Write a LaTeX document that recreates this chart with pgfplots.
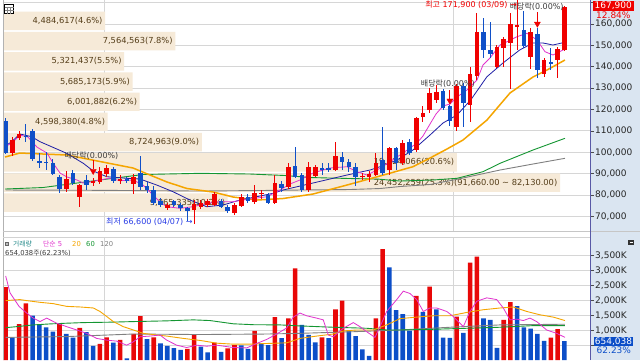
\documentclass[border=0pt]{standalone}
\usepackage{fontspec}
\setmainfont{DejaVu Sans}
\newfontfamily\kr{Noto Sans CJK KR}
\usepackage{pgfplots}
\usepackage{pgfplotstable}
\pgfplotsset{compat=1.18}
\definecolor{cred}{RGB}{240,0,0}
\definecolor{cblue}{RGB}{16,80,200}
\definecolor{vred}{RGB}{232,8,8}
\definecolor{vblue}{RGB}{12,78,200}
\definecolor{maa}{RGB}{225,50,205}
\definecolor{mab}{RGB}{30,30,165}
\definecolor{mac}{RGB}{245,165,0}
\definecolor{mad}{RGB}{20,150,50}
\definecolor{mae}{RGB}{128,128,128}
\definecolor{tanbox}{RGB}{246,234,216}
\definecolor{lbl}{RGB}{85,62,25}
\definecolor{panel}{RGB}{218,229,241}
\definecolor{gridc}{RGB}{214,214,214}
\definecolor{txt}{RGB}{60,60,60}
\newcommand\ftick{\fontsize{9}{10}\selectfont}
\newcommand\flab{\fontsize{8.3}{9}\selectfont}
\newcommand\fdiv{\fontsize{8}{9}\selectfont}
\newcommand\fsm{\fontsize{6.8}{7.5}\selectfont}

\pgfplotstableread{
i O H L C
1 99.6 107.0 98.0 105.8
2 106.6 110.1 105.8 108.45
9 82.75 91.0 81.6 87.6
11 79.0 85.2 74.6 84.8
13 85.5 88.0 84.2 86.6
14 86.3 93.3 85.2 91.0
15 89.9 94.1 88.6 92.6
17 86.3 89.3 85.2 87.4
19 85.2 89.8 80.4 88.6
24 73.9 76.2 73.0 75.4
28 73.1 77.7 66.6 75.7
29 74.6 77.7 73.5 76.2
30 75.4 78.0 74.5 77.0
31 75.4 81.6 74.8 80.6
34 71.5 76.2 70.8 75.4
35 75.0 80.4 74.5 79.0
37 76.5 84.8 76.0 80.9
38 80.5 82.4 78.1 80.9
40 76.2 89.4 75.8 85.6
42 83.7 94.9 83.0 93.3
45 82.4 95.6 81.6 93.3
46 89.0 94.1 88.2 93.0
49 91.8 104.7 91.0 98.0
53 88.5 90.2 87.2 89.0
54 88.6 91.0 86.3 89.9
55 89.4 99.6 89.0 94.9
57 91.8 102.4 89.4 101.9
59 94.9 105.8 94.0 104.25
61 101.1 116.4 100.3 115.9
62 116.4 121.4 114.3 118.3
63 119.8 130.0 118.3 127.6
64 124.5 131.5 122.9 128.4
67 112.0 132.0 109.7 131.0
69 122.2 140.0 114.3 136.6
70 135.7 165.0 133.8 156.4
73 140.0 150.2 139.3 149.4
74 148.9 154.1 140.0 152.8
75 151.0 165.0 129.5 160.0
76 158.5 171.9 147.9 159.5
78 144.7 158.0 139.0 156.1
80 136.6 144.0 135.4 143.2
82 143.2 149.4 134.6 148.2
83 147.9 168.5 147.5 167.9
}\redc

\pgfplotstableread{
i O H L C
0 114.8 116.0 99.0 99.6
3 107.8 113.3 105.0 107.0
4 110.1 111.0 96.0 96.8
5 95.8 99.6 92.6 95.2
6 95.5 100.0 91.8 94.9
7 94.9 96.8 89.4 89.9
8 88.2 89.4 80.9 82.75
10 90.5 91.45 84.8 85.6
12 86.8 89.4 82.4 84.8
16 92.3 93.0 85.6 86.6
18 87.4 88.2 85.6 86.4
20 90.2 98.0 82.4 83.7
21 84.3 86.2 81.0 82.1
22 82.4 84.0 75.4 76.2
23 77.0 78.4 74.5 75.1
25 77.0 77.7 74.6 75.4
26 75.4 76.2 72.3 73.9
27 73.9 74.6 67.6 72.3
32 77.0 78.0 73.8 74.6
33 74.6 75.4 71.5 72.6
36 79.0 80.4 76.2 77.0
39 80.1 81.0 75.8 76.2
41 85.1 86.6 81.5 83.2
43 93.6 102.4 87.9 88.6
44 89.4 90.4 81.5 82.4
47 92.6 94.9 89.4 91.8
48 92.6 94.9 90.8 91.8
50 97.7 100.3 91.8 95.2
51 95.6 96.8 90.9 93.3
52 93.3 95.0 84.0 88.6
56 96.3 112.0 89.4 90.2
58 101.9 102.6 91.8 94.9
60 105.0 106.2 98.8 99.6
65 128.8 129.5 119.8 120.6
66 121.4 122.2 112.3 114.8
68 131.0 132.5 112.0 122.9
71 156.1 162.7 144.0 148.0
72 147.8 161.0 144.0 146.0
77 157.2 166.0 149.0 149.7
79 155.3 158.0 134.6 138.5
81 142.4 148.6 138.5 141.2
}\bluec

\pgfplotstableread{
i V
0 2450
2 1220
3 1910
8 1250
11 1090
14 560
15 780
17 690
19 890
20 1490
22 780
27 390
28 860
31 600
33 410
34 520
37 990
40 1450
42 1410
43 3080
47 780
49 1710
50 2000
55 1410
56 3720
61 2160
63 2470
67 1470
69 3270
70 3470
74 1360
75 1950
81 770
82 1050
}\volr

\pgfplotstableread{
i V
1 780
4 1500
5 1220
6 1110
7 970
9 890
10 770
12 950
13 490
16 600
18 80
21 720
23 580
24 490
25 420
26 360
29 470
30 280
32 290
35 510
36 390
38 580
39 520
41 750
44 1190
45 860
46 610
48 750
51 1020
52 820
53 380
54 160
57 3110
58 1690
59 1550
60 1000
62 1630
64 1710
65 770
66 760
68 930
71 1410
72 1360
73 430
76 1820
77 1110
78 1070
79 890
80 660
83 654
}\volb

\begin{document}
\begin{tikzpicture}
\useasboundingbox (0pt,0pt) rectangle (640pt,360pt);
\clip (0pt,0pt) rectangle (640pt,360pt);
\fill[white] (0pt,0pt) rectangle (640pt,360pt);
\fill[panel] (590pt,0pt) rectangle (640pt,360pt);

% ---------- price grid / ticks ----------
\begin{axis}[at={(3pt,129pt)}, anchor=south west, scale only axis,
  width=587pt, height=231pt,
  xmin=-0.40, xmax=86.82, ymin=63.135, ymax=171.231,
  axis line style={draw=none},
  xtick={14.6,66.6}, xticklabels={}, xmajorgrids, xtick style={draw=none},
  ytick={70,80,90,100,110,120,130,140,150,160,170},
  yticklabels={{70,000},{80,000},{90,000},{100,000},{110,000},{120,000},{130,000},{140,000},{150,000},{160,000},{}},
  ymajorgrids, grid style={gridc, line width=0.9pt},
  ytick pos=right, yticklabel pos=right, tick align=outside, major tick length=4pt,
  ytick style={black!70, line width=0.7pt},
  yticklabel style={font=\ftick, text=black!85, anchor=west, inner sep=0pt, xshift=1pt}]
\addplot[draw=none] coordinates {(0,100)};
\end{axis}

% ---------- volume profile ----------
\begin{axis}[at={(3pt,129pt)}, anchor=south west, scale only axis,
  width=587pt, height=231pt,
  xmin=0, xmax=25.769, ymin=63.135, ymax=171.231, hide axis, clip=false]
\addplot[xbar, bar width=8.65, fill=tanbox, draw=none] coordinates {
 (4.484617,161.43) (7.564563,151.98) (5.321437,142.52) (5.685173,133.07)
 (6.001882,123.62) (4.598380,114.17) (8.724963,104.71) (19.924066,95.26)
 (24.452259,85.81) (9.865335,76.36)};
\tikzset{pl/.style={anchor=east, inner sep=0pt, xshift=-2.5pt, text=lbl, font=\flab}}
\node[pl] at (axis cs:4.484617,161.43) {4,484,617(4.6\%)};
\node[pl] at (axis cs:7.564563,151.98) {7,564,563(7.8\%)};
\node[pl] at (axis cs:5.321437,142.52) {5,321,437(5.5\%)};
\node[pl] at (axis cs:5.685173,133.07) {5,685,173(5.9\%)};
\node[pl] at (axis cs:6.001882,123.62) {6,001,882(6.2\%)};
\node[pl] at (axis cs:4.598380,114.17) {4,598,380(4.8\%)};
\node[pl] at (axis cs:8.724963,104.71) {8,724,963(9.0\%)};
\node[pl] at (axis cs:19.924066,95.26) {19,924,066(20.6\%)};
\node[pl] at (axis cs:24.452259,85.81) {24,452,259(25.3\%)(91,660.00 \textasciitilde{} 82,130.00)};
\node[pl] at (axis cs:9.865335,76.36) {9,865,335(10.2\%)};
\end{axis}

% ---------- price plots ----------
\begin{axis}[at={(3pt,129pt)}, anchor=south west, scale only axis,
  width=587pt, height=231pt,
  xmin=-0.40, xmax=86.82, ymin=63.135, ymax=171.231, hide axis]
\addplot[mae, line width=0.9pt] coordinates {(0,82.31) (14.01,82.17) (28.87,81.84) (37.79,82.08) (43.73,82.31) (51.16,82.55) (55.61,83.01) (58.59,83.95) (63.05,84.89) (67.06,87.32) (73.45,91.67) (78.35,94.48) (83.1,97.15)};
\addplot[mad, line width=0.9pt] coordinates {(-0.1,82.78) (5.54,83.48) (14.01,87.0) (20.4,89.57) (28.87,90.13) (36.3,89.8) (41.5,89.1) (45.22,88.16) (51.16,87.69) (55.17,87.46) (58.59,86.52) (63.49,87.0) (67.06,87.79) (70.92,90.88) (73.45,94.81) (78.35,101.03) (83.1,106.51)};
\addplot[mac, line width=1.5pt] coordinates {(-0.1,97.76) (2.12,99.63) (5.54,99.16) (9.11,98.69) (14.01,95.65) (18.92,92.61) (21.44,89.33) (23.97,86.06) (26.94,83.01) (30.8,81.38) (33.77,79.04) (37.34,77.63) (41.2,78.33) (45.66,80.44) (50.71,84.65) (55.61,88.86) (60.51,93.22) (63.05,97.29) (65.57,101.5) (67.95,105.71) (71.51,115.07) (74.93,127.71) (78.35,135.2) (80.43,138.47) (83.1,143.15)};
\addplot[mab, line width=0.8pt] coordinates {(0,103.0) (0.89,104.92) (2.12,108.52) (3.86,107.26) (5.1,104.92) (6.58,102.9) (9.06,99.49) (11.53,94.81) (13.02,91.2) (15.01,88.54) (17.98,87.79) (19.96,87.46) (22.44,84.65) (24.86,81.52) (27.38,77.63) (29.87,74.5) (32.29,75.29) (34.81,77.63) (37.3,79.18) (39.72,80.77) (41.2,82.31) (45.66,85.59) (50.71,89.33) (54.13,91.67) (55.61,93.22) (58.14,96.35) (60.51,101.03) (63.05,108.05) (64.98,113.67) (67.06,117.41) (69.09,124.43) (71.51,135.34) (73.89,141.75) (76.37,147.83) (78.35,151.11) (79.84,151.11) (81.32,150.17) (82.81,151.25) (83.1,151.6)};
\addplot[maa, line width=0.8pt] coordinates {(-0.1,102.4) (1.08,104.8) (2.12,108.05) (3.31,107.1) (4.65,102.4) (6.14,99.6) (7.03,94.95) (8.07,90.27) (9.11,88.4) (10.59,87.0) (11.49,85.6) (12.53,86.05) (14.01,87.0) (15.5,87.9) (16.98,86.66) (18.92,87.0) (20.4,84.65) (21.44,81.38) (22.93,76.7) (23.97,74.5) (25.9,73.75) (27.83,74.5) (29.91,76.09) (31.84,76.84) (33.77,76.84) (35.26,77.63) (37.34,78.57) (38.83,79.18) (40.76,82.31) (42.24,85.12) (43.73,87.0) (45.66,90.27) (48.19,92.61) (50.71,93.22) (52.2,90.88) (53.68,89.33) (55.17,91.67) (57.1,95.56) (59.03,99.63) (61.11,104.3) (62.0,107.58) (63.05,113.2) (63.94,117.88) (64.98,121.62) (66.02,122.56) (67.06,125.84) (68.54,129.11) (70.03,133.79) (70.92,140.81) (71.96,144.09) (73.45,150.17) (74.49,151.72) (75.97,154.06) (77.46,155.65) (78.95,152.51) (80.13,147.04) (81.32,145.49) (83.1,148.3)};
% wicks
\addplot[draw=none, mark=none, forget plot, error bars/.cd, y dir=both, y explicit, error mark=none,
  error bar style={draw=cred, line width=1pt}]
  table[x=i, y expr={(\thisrow{H}+\thisrow{L})/2}, y error expr={(\thisrow{H}-\thisrow{L})/2}] {\redc};
\addplot[draw=none, mark=none, forget plot, error bars/.cd, y dir=both, y explicit, error mark=none,
  error bar style={draw=cblue, line width=1pt}]
  table[x=i, y expr={(\thisrow{H}+\thisrow{L})/2}, y error expr={(\thisrow{H}-\thisrow{L})/2}] {\bluec};
% bodies
\addplot[draw=none, mark=none, forget plot, error bars/.cd, y dir=both, y explicit, error mark=none,
  error bar style={draw=cred, line width=4.6pt}]
  table[x=i, y expr={(\thisrow{O}+\thisrow{C})/2}, y error expr={max(abs(\thisrow{C}-\thisrow{O})/2,0.25)}] {\redc};
\addplot[draw=none, mark=none, forget plot, error bars/.cd, y dir=both, y explicit, error mark=none,
  error bar style={draw=cblue, line width=4.6pt}]
  table[x=i, y expr={(\thisrow{O}+\thisrow{C})/2}, y error expr={max(abs(\thisrow{C}-\thisrow{O})/2,0.25)}] {\bluec};
% dividend markers
\draw[cred, line width=1pt] (axis cs:13,96.35) -- (axis cs:13,92.0);
\draw[cred, line width=1pt] (axis cs:66,129.1) -- (axis cs:66,124.9);
\draw[cred, line width=1pt] (axis cs:79,165.6) -- (axis cs:79,160.9);
\addplot[only marks, mark=triangle*, mark size=3.5pt, mark options={rotate=180, fill=cred, draw=cred}] coordinates {(13,91.2) (66,124.1) (79,160.1)};
\node[anchor=base, inner sep=0pt, text=txt, font=\fdiv] at (axis cs:12.75,97.2) {{\kr 배당락}(0.00\%)};
\node[anchor=base, inner sep=0pt, text=txt, font=\fdiv] at (axis cs:65.7,130.6) {{\kr 배당락}(0.00\%)};
\node[anchor=base, inner sep=0pt, text=txt, font=\fdiv] at (axis cs:78.9,166.7) {{\kr 배당락}(0.00\%)};
\end{axis}

% ---------- volume ----------
\begin{axis}[at={(3pt,0pt)}, anchor=south west, scale only axis,
  width=587pt, height=122.5pt,
  xmin=-0.40, xmax=86.82, ymin=23, ymax=4107,
  axis line style={draw=none},
  xtick={14.6,66.6}, xticklabels={}, xmajorgrids, xtick style={draw=none},
  ytick={500,1000,1500,2000,2500,3000,3500},
  yticklabels={{},{1,000K},{1,500K},{2,000K},{2,500K},{3,000K},{3,500K}},
  ymajorgrids, grid style={gridc, line width=0.9pt},
  ytick pos=right, yticklabel pos=right, tick align=outside, major tick length=4pt,
  ytick style={black!70, line width=0.7pt},
  yticklabel style={font=\ftick, text=black!85, anchor=west, inner sep=0pt, xshift=1pt}]
\addplot[ybar, bar width=0.68, bar shift=0pt, fill=vred, draw=none] table[x=i, y=V] {\volr};
\addplot[ybar, bar width=0.68, bar shift=0pt, fill=vblue, draw=none] table[x=i, y=V] {\volb};
\addplot[mae, line width=0.9pt] coordinates {(0,777) (9.06,804) (18.96,889) (28.87,872) (38.78,889) (43.73,912) (51.65,966) (58.59,1024) (66.02,1115) (73.45,1193) (83.1,1216)};
\addplot[mad, line width=0.9pt] coordinates {(0,1101) (1.63,1135) (4.1,1193) (6.58,1226) (9.06,1250) (11.53,1270) (15.5,1284) (18.96,1304) (23.92,1328) (27.88,1361) (30.36,1338) (33.82,1230) (36.79,1200) (40.76,1193) (43.73,1159) (48.68,1115) (53.64,1081) (56.61,1024) (58.59,1024) (63.54,1047) (68.5,1081) (73.45,1115) (78.35,1169) (83.1,1169)};
\addplot[mac, line width=0.9pt] coordinates {(0,2003) (2.12,2037) (3.12,2003) (5.1,1946) (7.07,1902) (9.06,1811) (11.04,1791) (13.02,1757) (14.01,1642) (15.01,1473) (15.99,1304) (17.47,1135) (18.96,1024) (20.45,912) (22.44,855) (23.92,821) (26.39,743) (28.87,676) (31.35,584) (33.82,551) (36.3,551) (38.78,574) (41.75,595) (43.73,743) (46.21,821) (48.68,889) (50.16,990) (52.15,1024) (54.62,1024) (56.61,1193) (58.59,1402) (61.56,1463) (63.54,1497) (66.02,1497) (68.5,1608) (70.97,1699) (73.45,1757) (75.42,1791) (77.41,1642) (79.39,1530) (81.37,1453) (83.1,1338)};
\addplot[maa, line width=0.8pt] coordinates {(0,2824) (0.64,2264) (1.98,1811) (3.12,1588) (4.1,1419) (5.1,1304) (6.09,1419) (7.58,1250) (9.06,1135) (10.55,1024) (12.04,912) (13.52,743) (15.01,686) (16.49,652) (17.98,517) (18.96,628) (19.96,797) (21.44,821) (22.93,855) (23.92,686) (25.41,517) (26.89,439) (28.38,517) (29.87,483) (31.35,517) (33.82,439) (35.81,426) (37.3,574) (38.78,709) (40.27,889) (41.75,1091) (42.73,1453) (43.73,1588) (44.72,1497) (46.21,1419) (47.19,1361) (47.93,855) (48.68,797) (50.16,1081) (51.65,1270) (52.64,1135) (53.64,966) (54.87,777) (55.87,1260) (56.61,1642) (58.1,2037) (59.08,2318) (60.07,2240) (61.07,2037) (62.05,1642) (63.05,1757) (64.04,1757) (65.53,1642) (66.51,1473) (68.0,1135) (68.99,1642) (69.99,1980) (71.47,2095) (72.96,2037) (73.94,1757) (74.93,1361) (75.93,1385) (76.91,1338) (77.9,1419) (78.9,1304) (80.38,1024) (81.87,912) (83.1,777)};
\end{axis}

% ---------- frame and annotations ----------
\draw[gray!60, line width=0.8pt] (3pt,0pt) -- (3pt,360pt);
\draw[gray!45, line width=1pt] (3pt,128.5pt) -- (640pt,128.5pt);
\draw[gray!35, line width=0.8pt] (3pt,122.5pt) -- (590pt,122.5pt);
\draw[gray!70!blue, line width=0.8pt] (590pt,0pt) -- (590pt,360pt);
\draw[black, fill=white, line width=0.6pt] (4.5pt,346.5pt) rectangle (13.5pt,355.5pt);
\draw[gray, line width=0.4pt] (4.5pt,352.5pt) -- (13.5pt,352.5pt) (4.5pt,349.5pt) -- (13.5pt,349.5pt) (7.5pt,346.5pt) -- (7.5pt,352.5pt) (10.5pt,346.5pt) -- (10.5pt,352.5pt);

\node[anchor=base east, inner sep=0pt, text=cred, font=\fdiv] at (517pt,353pt) {{\kr 최고} 171,900 (03/09) →};
\node[anchor=base west, inner sep=0pt, text={rgb,255:red,40;green,60;blue,230}, font=\fdiv] at (106pt,135.5pt) {{\kr 최저} 66,600 (04/07) →};

% volume legend
\filldraw[fill=gray!50, draw=gray!80!black, line width=0.4pt] (5pt,114.5pt) rectangle (8pt,117.5pt);
\node[anchor=base west, inner sep=0pt, text={rgb,255:red,40;green,140;blue,140}, font=\fsm] at (13pt,113.5pt) {\kr 거래량};
\node[anchor=base west, inner sep=0pt, text=maa, font=\fsm] at (43pt,113.5pt) {{\kr 단순} 5};
\node[anchor=base west, inner sep=0pt, text=mac, font=\fsm] at (72pt,113.5pt) {20};
\node[anchor=base west, inner sep=0pt, text=mad, font=\fsm] at (86pt,113.5pt) {60};
\node[anchor=base west, inner sep=0pt, text=mae, font=\fsm] at (100pt,113.5pt) {120};
\node[anchor=base west, inner sep=0pt, text=txt, font=\fsm] at (5pt,104.5pt) {654,038{\kr 주}(62.23\%)};

% right panel boxes
\fill[cred] (592.5pt,349.5pt) rectangle (634pt,359.5pt);
\node[text=white, font=\ftick, inner sep=0pt] at (613.2pt,354.5pt) {167,900};
\node[anchor=west, text=cred, font=\ftick, inner sep=0pt] at (596pt,345pt) {12.84\%};
\fill[vblue] (594pt,14pt) rectangle (633pt,23.5pt);
\node[text=white, font=\ftick, inner sep=0pt] at (613.5pt,18.75pt) {654,038};
\node[anchor=west, text=vblue, font=\ftick, inner sep=0pt] at (596.5pt,9.5pt) {62.23\%};
\fill[black!80] (628pt,115pt) rectangle (634pt,120pt);
\draw[white, line width=0.6pt] (629.5pt,117.5pt) -- (632.5pt,117.5pt);
\end{tikzpicture}
\end{document}
